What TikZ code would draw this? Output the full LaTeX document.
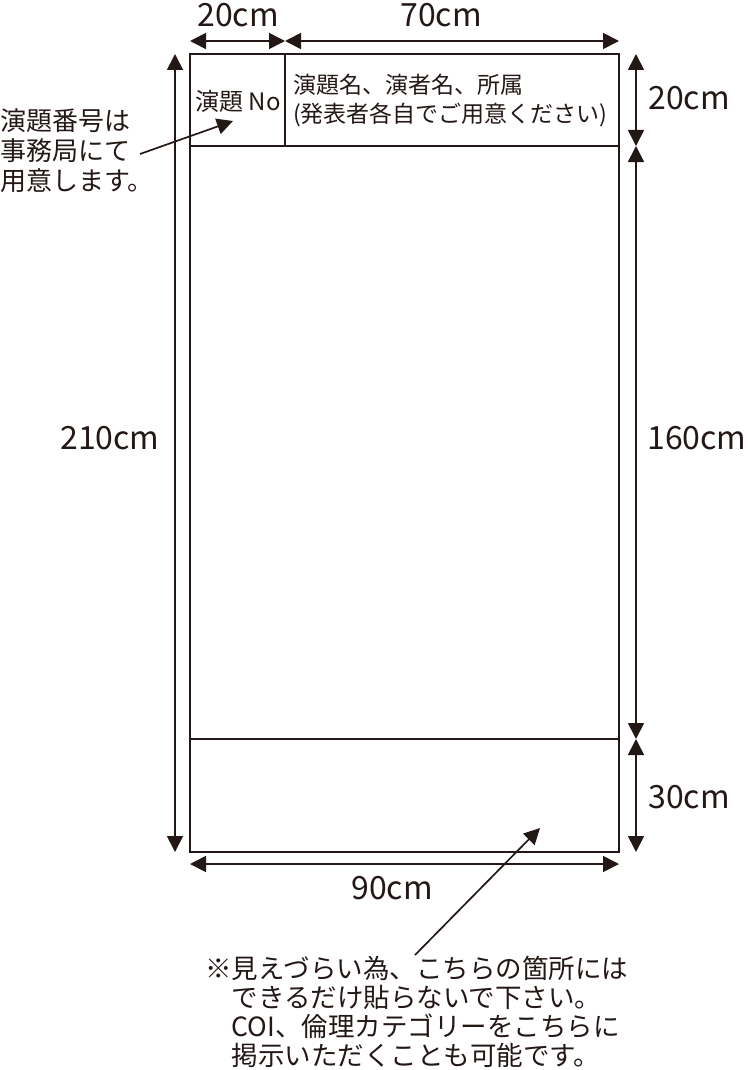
\documentclass[tikz,border=0pt]{standalone}
\usepackage{fontspec}
\setmainfont{Noto Sans CJK JP}
\usepackage{tikz}
\usetikzlibrary{arrows.meta,calc}
\definecolor{inkblack}{HTML}{231815}
\tikzstyle{panel}=[draw=inkblack,line width=1.7pt]
\tikzstyle{dimline}=[draw=inkblack,line width=1.7pt,
                     {Triangle[length=16pt,width=16pt]}-{Triangle[length=16pt,width=16pt]}]
\tikzstyle{pointer}=[draw=inkblack,line width=1.7pt,
                     -{Triangle[length=16pt,width=16pt]}]
\tikzstyle{dimlabel}=[inner sep=0pt,text height=23pt,text depth=0pt,text=inkblack,
                      font=\fontsize{32}{36}\selectfont]
\tikzstyle{headlabel}=[inner sep=0pt,align=left,text=inkblack,font=\fontsize{23}{29}\selectfont]
\tikzstyle{notelabel}=[inner sep=0pt,align=left,text=inkblack,font=\fontsize{26.5}{29}\selectfont]
\newcommand\noteindent{\hspace*{1em}}

\begin{document}
\begin{tikzpicture}[x=1pt,y=-1pt]
    	\useasboundingbox (0,0) rectangle (747,1070);
    	% poster frame
    	\coordinate (top left) at (190,54);
    	\coordinate (top right) at (619,54);
    	\coordinate (bottom left) at (190,852);
    	\coordinate (bottom right) at (619,852);
    	\coordinate (head left) at (190,146);
    	\coordinate (head right) at (619,146);
    	\coordinate (foot left) at (190,739);
    	\coordinate (foot right) at (619,739);
    	\coordinate (no top) at (285,54);
    	\coordinate (no bottom) at (285,146);
    	\draw [panel] (top left) rectangle (bottom right);
    	\draw [panel] (head left) -- (head right);
    	\draw [panel] (foot left) -- (foot right);
    	\draw [panel] (no top) -- (no bottom);
    	% dimension ends
    	\coordinate (top a) at (190,41);
    	\coordinate (top b) at (285,41);
    	\coordinate (top c) at (619,41);
    	\coordinate (left a) at (175,54);
    	\coordinate (left b) at (175,852);
    	\coordinate (right a) at (636,54);
    	\coordinate (right b) at (636,146);
    	\coordinate (right c) at (636,739);
    	\coordinate (right d) at (636,852);
    	\coordinate (base a) at (190,864);
    	\coordinate (base b) at (619,864);
    	\draw [dimline] (top a) -- (top b);
    	\draw [dimline] (top b) -- (top c);
    	\draw [dimline] (left a) -- (left b);
    	\draw [dimline] (right a) -- (right b);
    	\draw [dimline] (right b) -- (right c);
    	\draw [dimline] (right c) -- (right d);
    	\draw [dimline] (base a) -- (base b);
    	% dimension labels
    	\node [dimlabel] (w20) at (238,15) {20cm};
    	\node [dimlabel] (w70) at (441,15) {70cm};
    	\node [dimlabel] (h210) at (110,438) {210cm};
    	\node [dimlabel] (h20) at (689,98) {20cm};
    	\node [dimlabel] (h160) at (697,438) {160cm};
    	\node [dimlabel] (h30) at (689,797) {30cm};
    	\node [dimlabel] (w90) at (392,888) {90cm};
    	% header texts
    	\node [headlabel,font=\fontsize{24}{29}\selectfont] (number) at (238,101) {演題 No};
    	\node [headlabel,anchor=west] (title) at (293,101) {
    		演題名、演者名、所属\\(発表者各自でご用意ください)
    	};
    	% notes
    	\node [notelabel,anchor=west,font=\fontsize{26}{30}\selectfont] (office note) at (0,151) {
    		演題番号は\\事務局にて\\用意します。
    	};
    	\node [notelabel,anchor=west] (foot note) at (205,1012) {
    		※見えづらい為、こちらの箇所には\\
    		\noteindent できるだけ貼らないで下さい。\\
    		\noteindent COI、倫理カテゴリーをこちらに\\
    		\noteindent 掲示いただくことも可能です。
    	};
    	\coordinate (office tail) at (140,154);
    	\coordinate (office head) at (233,121);
    	\coordinate (foot tail) at (415,955);
    	\coordinate (foot head) at (540,828);
    	\draw [pointer] (office tail) -- (office head);
    	\draw [pointer] (foot tail) -- (foot head);
    \end{tikzpicture}
\end{document}
